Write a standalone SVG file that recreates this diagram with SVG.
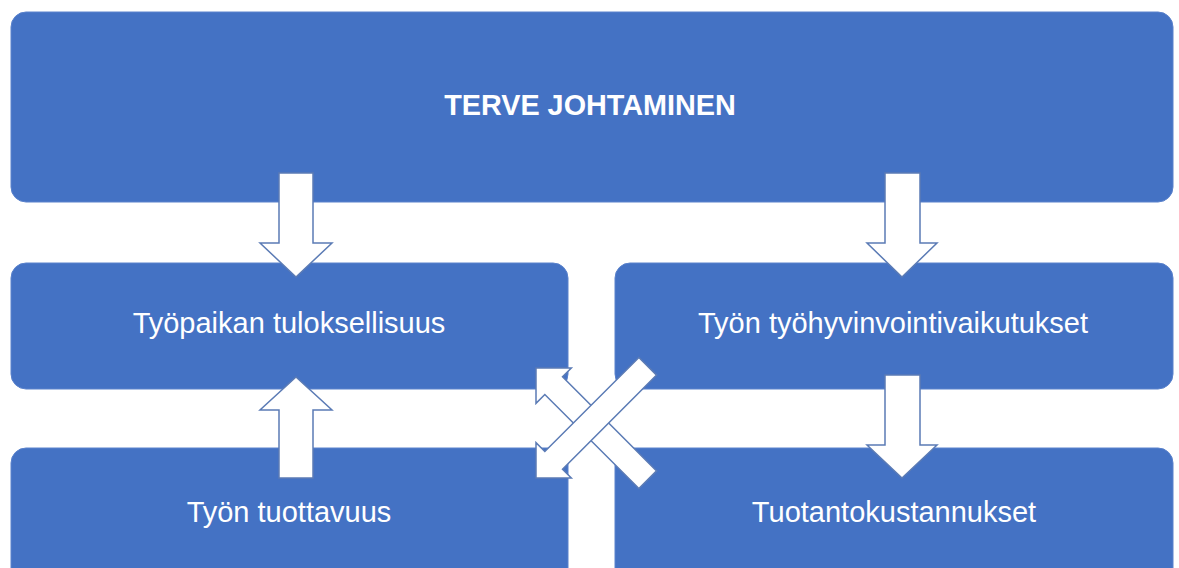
<svg xmlns="http://www.w3.org/2000/svg" width="1179" height="568" viewBox="0 0 1179 568">
<style>
.box{fill:#4472C4;stroke:#5a82cc;stroke-width:1}
.lbl{font-family:"Liberation Sans",Arial,sans-serif;font-size:29px;fill:#ffffff;text-anchor:middle}
.bold{font-weight:bold;font-size:28.8px}
.arr{fill:#ffffff;stroke:#5b7bb5;stroke-width:1.5;stroke-linejoin:miter}
</style>
<rect width="1179" height="568" fill="#ffffff"/>
<g id="node-terve">
<rect class="box" x="11" y="12" width="1162" height="190" rx="15"/>
<text class="lbl bold" x="590" y="115">TERVE JOHTAMINEN</text>
</g>
<g id="node-tuloksellisuus">
<rect class="box" x="11" y="263" width="557" height="126" rx="15"/>
<text class="lbl" x="289" y="333">Työpaikan tuloksellisuus</text>
</g>
<g id="node-tyohyvinvointi">
<rect class="box" x="615" y="263" width="558" height="126" rx="15"/>
<text class="lbl" x="893" y="333">Työn työhyvinvointivaikutukset</text>
</g>
<g id="node-tuottavuus">
<rect class="box" x="11" y="448" width="557" height="160" rx="15"/>
<text class="lbl" x="289" y="522">Työn tuottavuus</text>
</g>
<g id="node-tuotantokustannukset">
<rect class="box" x="615" y="448" width="558" height="160" rx="15"/>
<text class="lbl" x="894" y="522">Tuotantokustannukset</text>
</g>
<g id="connectors">
<polygon class="arr" points="279,173 313,173 313,243 332,243 296,277 260,243 279,243"/>
<polygon class="arr" points="885,173 920,173 920,243 937,243 902,277 867,243 885,243"/>
<polygon class="arr" points="885,375 920,375 920,445 937,445 902,478 867,445 885,445"/>
<polygon class="arr" points="279,478 313,478 313,410 332,410 296,377 260,410 279,410"/>
<polygon class="arr" transform="translate(536,368) rotate(45)" points="0,0 25,-25 25,-12.5 158,-12.5 158,12.5 25,12.5 25,25"/>
<polygon class="arr" transform="translate(536,478) rotate(-45)" points="0,0 25,-25 25,-12.5 158,-12.5 158,12.5 25,12.5 25,25"/>
</g>
</svg>
